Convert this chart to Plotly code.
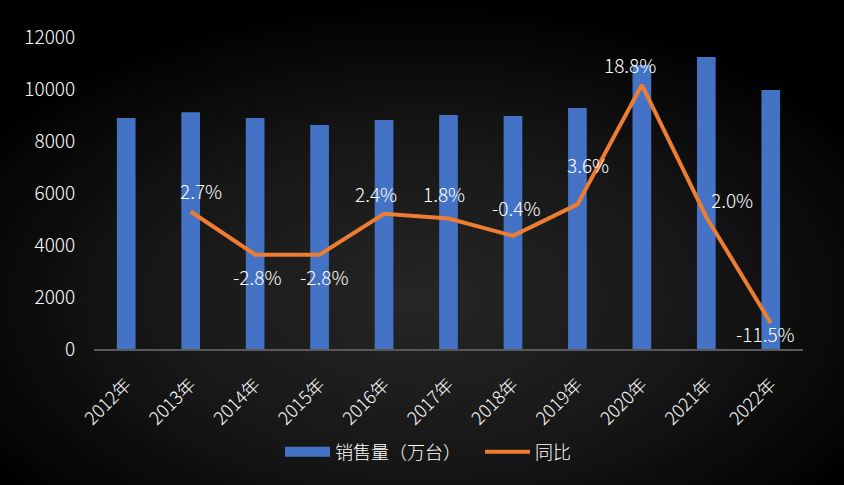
import plotly.graph_objects as go
import base64

years = ["2012年", "2013年", "2014年", "2015年", "2016年", "2017年", "2018年", "2019年", "2020年", "2021年", "2022年"]
sales = [8880, 9110, 8880, 8620, 8810, 9000, 8960, 9270, 10920, 11230, 9960]
yoy_years = years[1:]
yoy = [2.7, -2.8, -2.8, 2.4, 1.8, -0.4, 3.6, 18.8, 2.0, -11.5]
yoy_labels = ["2.7%", "-2.8%", "-2.8%", "2.4%", "1.8%", "-0.4%", "3.6%", "18.8%", "2.0%", "-11.5%"]

# label offsets in pixels (layout only)
label_dx = [10, 2, 4, -8, -5, 3, 11, -12, 26, -5]
label_dy = [21, -22, -22, 20, 25, 28, 40, 20, 17, -10]

FONT = "Noto Sans CJK SC"
W = 300

svg = """<svg xmlns='http://www.w3.org/2000/svg' width='844' height='485'>
<defs><radialGradient id='g' cx='50%' cy='62%' r='62%'>
<stop offset='0%' stop-color='#262626'/><stop offset='55%' stop-color='#161616'/><stop offset='100%' stop-color='#000000'/>
</radialGradient></defs><rect width='844' height='485' fill='url(#g)'/></svg>"""
bg_src = "data:image/svg+xml;base64," + base64.b64encode(svg.encode()).decode()

fig = go.Figure()
fig.add_trace(go.Bar(
    x=years, y=sales, name="销售量（万台）",
    marker=dict(color="#4472C4", line=dict(width=0)),
    width=0.29, showlegend=False,
))
# legend swatch for bars (wide rectangle)
fig.add_trace(go.Scatter(
    x=[None], y=[None], name="销售量（万台）", mode="lines",
    line=dict(color="#4472C4", width=10),
))
fig.add_trace(go.Scatter(
    x=yoy_years, y=yoy, name="同比", yaxis="y2",
    mode="lines", line=dict(color="#ED7D31", width=4),
))

for xv, yv, t, dx, dy in zip(yoy_years, yoy, yoy_labels, label_dx, label_dy):
    fig.add_annotation(x=xv, y=yv, xref="x", yref="y2", text=t, showarrow=False,
                       xshift=dx, yshift=dy,
                       font=dict(family=FONT, size=19, color="#FFFFFF", weight=W))

fig.update_layout(
    width=844, height=485,
    margin=dict(l=94, r=41, t=37, b=136),
    paper_bgcolor="#111111", plot_bgcolor="rgba(0,0,0,0)",
    images=[dict(source=bg_src, xref="paper", yref="paper", x=-94/709, y=1+37/312,
                 sizex=844/709, sizey=485/312, sizing="stretch", layer="below",
                 xanchor="left", yanchor="top")],
    font=dict(family=FONT, color="#FFFFFF", weight=W),
    showlegend=True,
    legend=dict(orientation="h", x=(280 - 94) / 709, xanchor="left", y=-0.33, yanchor="middle",
                font=dict(family=FONT, size=18, color="#FFFFFF", weight=W),
                itemwidth=45, entrywidth=140,
                bgcolor="rgba(0,0,0,0)"),
    xaxis=dict(showgrid=False, showline=True, linecolor="#595959", linewidth=2,
               tickangle=-45, ticks="outside", ticklen=16, tickcolor="rgba(0,0,0,0)",
               tickfont=dict(family=FONT, size=18, color="#FFFFFF", weight=W), zeroline=False),
    yaxis=dict(range=[0, 12000], dtick=2000, tickformat="d", showgrid=False, zeroline=False,
               showline=False, ticks="outside", ticklen=14, tickcolor="rgba(0,0,0,0)",
               tickfont=dict(family=FONT, size=19, color="#FFFFFF", weight=W)),
    yaxis2=dict(range=[-14.8, 24.9], overlaying="y", side="right", visible=False,
                showgrid=False, zeroline=False),
)

fig.write_html("out.html")
